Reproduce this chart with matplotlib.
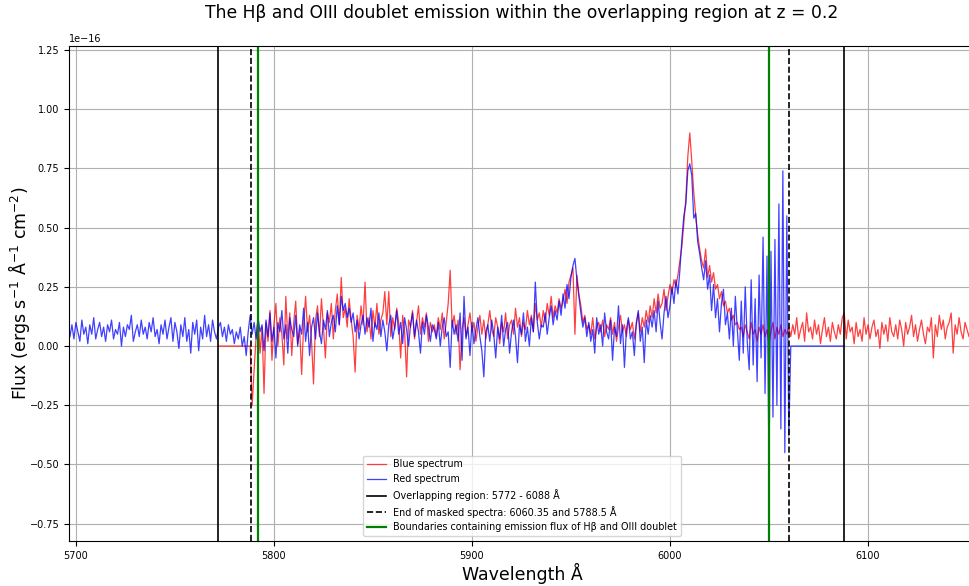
import numpy as np
import matplotlib
matplotlib.use("Agg")
import matplotlib.pyplot as plt

# flux values in units of 1e-18 erg s^-1 A^-1 cm^-2, 1 A sampling
# blue-arm data plotted in blue (labelled "Red spectrum"), starts at 5697 A
blue_start = 5697
blue_flux = [
    4, 9, 3, 10, 6, 2, 11, 5, 8, 1,
    9, 5, 12, 3, 7, 10, 4, 8, 2, 9,
    6, 11, 3, 7, 5, 10, 0, 8, 4, 9,
    7, 13, 2, 6, 9, 4, 11, 5, 8, 3,
    10, 6, 12, 4, 7, 1, 9, 5, 11, 3,
    8, 12, 2, 10, 6, -1, 9, 4, 12, 2,
    7, -3, 10, 5, 11, -2, 8, 3, 13, 4,
    9, 2, 11, 6, 3, 8,
    10, 4, 8, 2, 9, 5, 7, 1, 6, 3,
    8, 0, 4, -4, 6, 13,
    5, 10, 3, 12, 6, 9, -2, 11, 4, 14,
    2, 8, -5, 10, 6, 15, 3, 9, -3, 12,
    7, 4, 13, 0, 9, 5, 16, 2, 10, -4,
    8, 12, 3, 14, 6, 1, 11, 7, 15, 4,
    10, 13, 6, 17, 9, 21, 15,
    18, 12, 16, 10, 14, 6, 11, 3, 9, 13,
    5, 12, 8, 16, 2, 10, 7, 14, 4, 11,
    6, -2, 9, 13, 3, 8, 15, 5, 10, 1,
    12, 7, 0, 9, 14, 4, 11, 6, -3, 10,
    5, 13, 8, 2, 9,
    7, 3, 10, 0, 8, 12, 4, 6, -9, 11,
    5, 9, 2, 14, -6, 21, 3, 8, -4, 10,
    1, 7, 12, 4, -2, -13, 6, 9, 2, 11,
    5, -5, 8, 3, 13, 0, 7, 10, -3, 6,
    11, 4, -7, 9, 5, 14, 2, 8, 0, 12,
    6, 27, 10, 3, 9,
    8, 14, 5, 12, 17, 9, 15, 11, 19, 13,
    22, 16, 26, 20, 29, 34, 37, 28, 21, 14,
    8, 12, 4,
    10, 2, 7, -3, 12, 5, 9, 0, 14, 6,
    3, 11, -6, 8, 4, 17, 1, 9, -9, 7,
    12, 3, 6, -4, 10, 15, 2, 8, -7, 11,
    5, 13,
    8, 15, 6, 19, 10, 3, 14, 21, 12, 17,
    25, 18, 28, 22, 32,
    45, 55, 60, 74, 77, 72, 54, 56, 44, 39,
    33, 28, 36, 24, 30,
    15, 26, 12, 20, 6, 18, 24, 9, 14, 3,
    16, 0, 21, 7, -6,
    19, -3, 25, 2, -10, 28, -8, 20, -15, 30,
    -5, 46, -20, 38, -52, 40, -30, 45, -25, 60,
    -35, 74, -45, 55, -38,
    # masked beyond 6060.35 A, up to end of overlap
    0, 0, 0, 0, 0, 0, 0, 0, 0, 0,
    0, 0, 0, 0, 0, 0, 0, 0, 0, 0,
    0, 0, 0, 0, 0, 0, 0, 0,
]

# red-arm data plotted in red (labelled "Blue spectrum"), starts at 5772 A
red_start = 5772
red_flux = [
    # masked below 5788.5 A
    0, 0, 0, 0, 0, 0, 0, 0, 0, 0,
    0, 0, 0, 0, 0, 0, 0,
    -25, -10, 4, 12, -3, 8, -20, 10, 2, 15,
    -6, 9, 18, 0, 12, 5, -8, 21, 3, 14,
    -4, 10, 19, 1, 7, -12, 9, 21, 6, 13,
    2, -16, 11, 17, 4, 20, 8, -5, 14, 10,
    18, 3, 15, 22, 9, 29, 12,
    16, 8, 20, 11, 4, -11, 13, 7, 17, 9,
    27, 6, 12, 3, 15, 8, 18, 5, 11, 14,
    23, 9, 23, 4, 12, 7, 16, 10, -5, 13,
    6, -13, 11, 8, 15, 3, 10, 17, 5, 12,
    8, 14, 2, 10, 6,
    9, 4, 12, 7, 14, 3, 10, 18, 32, 8,
    13, 5, 11, -10, 7, 12, 4, 9, 14, 6,
    10, 2, 8, 13, 5, 11, 3, 9, 15, 7,
    4, 12, 8, 1, 10, 6, 14, 3, 9, 11,
    5, 16, 8, 12, 4, 10, 7, 15, 9, 13,
    6, 18, 11, 14, 8,
    15, 10, 18, 13, 21, 12, 17, 14, 20, 16,
    19, 24, 18, 27, 30, 33, 5, 30, 22, 17,
    10, 13, 7,
    9, 5, 12, 3, 8, 10, 6, 11, 4, 9,
    7, 12, 5, 10, 2, 8, 13, 6, 9, 4,
    11, 7, 10, 3, 9, 14, 6, 12, 8, 15,
    10, 17,
    12, 20, 14, 22, 16, 18, 24, 15, 21, 26,
    22, 28, 25, 30, 36,
    42, 52, 62, 80, 90, 78, 65, 55, 47, 41,
    36, 33, 41, 29, 34,
    27, 31, 24, 26, 20, 23, 17, 19, 14, 16,
    11, 13, 9, 10, 7,
    8, 4, 9, 6, 3, 10, 5, 7, 2, 8,
    5, 9, 4, 7, 1, 6, 10, 3, 8, 5,
    9, 4, 7, 5, 8,
    4, 9, 5, 12, 3, 7, 10, 2, 14, 6,
    8, 3, 11, 5, 9, 1, 7, 12, 4, 8,
    2, 10, 6, 3, 9, 5, 12, 14, 3, 11,
    6, 8, 1, 10, 4, 7, 2, 12, 5, 9,
    3, 8, 11, 4, 7, -1, 10, 5, 9, 2,
    12, 6, 4, 9, 3, 11, 7, 0, 10, 5,
    8, 13, 4, 9, 2, 7, 11, 5, 1, 8,
    6, 12, -5, 9, 4, 13, 7, 11, 3, 8,
    10, 14, -3, 9, 5, 12, 6, 3, 10, 7,
    4, 9,
]

overlap = [5772, 6088]
mask_ends = [6060.35, 5788.5]
emission_bounds = [5792, 6050]

blue_wave = blue_start + np.arange(len(blue_flux))
red_wave = red_start + np.arange(len(red_flux))
scale = 1e-18

fig = plt.figure(figsize=(9.7, 5.86), dpi=100)
ax = fig.add_axes([0.0711, 0.0768, 0.934, 0.8447])

ax.plot(red_wave, np.array(red_flux) * scale, color="red", lw=0.9, alpha=0.75,
        label="Blue spectrum")
ax.plot(blue_wave, np.array(blue_flux) * scale, color="blue", lw=0.9, alpha=0.75,
        label="Red spectrum")

for i, w in enumerate(overlap):
    ax.axvline(w, color="black", lw=1.2,
               label="Overlapping region: 5772 - 6088 Å" if i == 0 else None)
for i, w in enumerate(mask_ends):
    ax.axvline(w, color="black", lw=1.2, ls="--",
               label="End of masked spectra: 6060.35 and 5788.5 Å" if i == 0 else None)
for i, w in enumerate(emission_bounds):
    ax.axvline(w, color="green", lw=1.6,
               label="Boundaries containing emission flux of Hβ and OIII doublet" if i == 0 else None)

ax.set_xlim(5696.5, 6154)
ax.set_ylim(-0.823e-16, 1.267e-16)
ax.set_xticks([5700, 5800, 5900, 6000, 6100])
ax.set_yticks(np.arange(-0.75, 1.26, 0.25) * 1e-16)
ax.tick_params(labelsize=7)
ax.yaxis.get_offset_text().set_fontsize(7)
ax.grid(True, color="#b0b0b0", lw=0.8)

ax.set_title("The Hβ and OIII doublet emission within the overlapping region at z = 0.2",
             fontsize=12.3, pad=20)
ax.set_xlabel("Wavelength Å", fontsize=12.5)
ax.set_ylabel("Flux (ergs s$^{-1}$ Å$^{-1}$ cm$^{-2}$)", fontsize=12.5)
ax.xaxis.set_label_coords(0.5, -0.044)
ax.yaxis.set_label_coords(-0.041, 0.5)
ax.legend(loc="lower center", fontsize=6.9)

fig.savefig("out.png", dpi=100)
